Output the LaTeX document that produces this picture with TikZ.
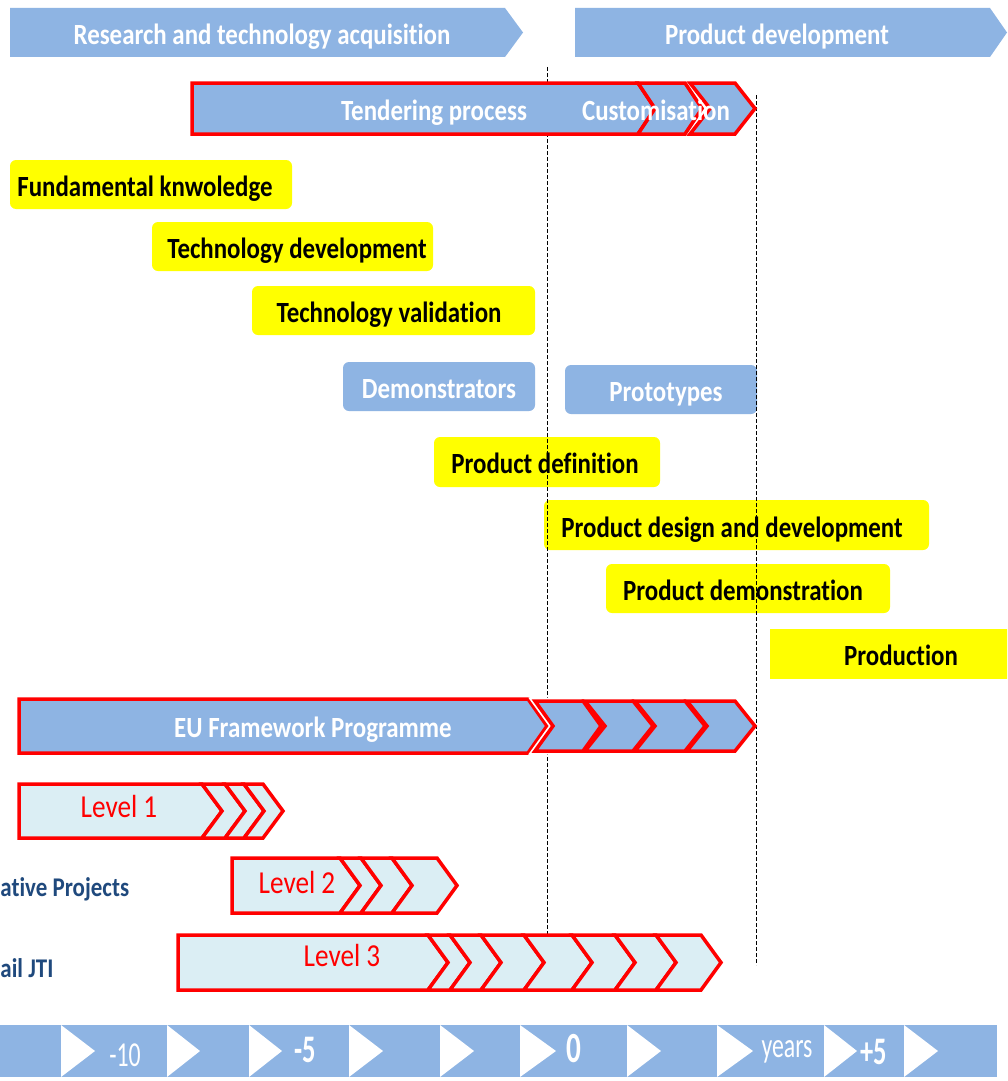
\documentclass[tikz,border=0pt]{standalone}
\usepackage{fontspec}
\setmainfont{Carlito}[FakeStretch=0.85, Ligatures=NoCommon]
\newfontfamily\narrowfont{Carlito}[FakeStretch=0.68]
\definecolor{pblue}{RGB}{142,180,227}
\definecolor{lblue}{RGB}{219,238,244}
\definecolor{dblue}{RGB}{31,73,125}
\definecolor{pyellow}{RGB}{255,255,0}

% chevron with a notch: style, x-left, x-right, depth, y-top, y-bottom
\newcommand\chevshape[6]{%
  \path[#1] (#2,#5) -- (#3,#5) -- ({#3+#4},{(#5+#6)/2}) -- (#3,#6)
    -- (#2,#6) -- ({#2+#4},{(#5+#6)/2}) -- cycle;}
% arrow bar with a flat left end
\newcommand\pentshape[6]{%
  \path[#1] (#2,#5) -- (#3,#5) -- ({#3+#4},{(#5+#6)/2}) -- (#3,#6)
    -- (#2,#6) -- cycle;}

\tikzset{
  hdr/.style={fill=pblue},
  ybox/.style={fill=pyellow, rounded corners=6pt},
  bbox/.style={fill=pblue, rounded corners=6pt},
  redbar/.style={draw=red, line width=3.5pt, fill=pblue, line join=miter},
  redhalo/.style={draw=white, line width=7pt, line join=miter},
  lvl/.style={draw=red, line width=3.5pt, fill=lblue, line join=miter},
  dashline/.style={draw=black, line width=1pt, dash pattern=on 4pt off 2pt},
  wtxt/.style={anchor=base, text=white, font=\bfseries\fontsize{29.3}{32}\selectfont},
  ktxt/.style={anchor=base, text=black, font=\bfseries\fontsize{29.3}{32}\selectfont},
  ltxt/.style={anchor=base, text=red, font=\fontsize{32}{36}\selectfont},
  stxt/.style={anchor=base west, text=dblue, font=\bfseries\fontsize{27}{30}\selectfont},
  atxt/.style={anchor=base, text=white},
  inner sep=0pt, outer sep=0pt
}

\begin{document}
\begin{tikzpicture}[x=1pt, y=-1pt]
\clip (0,0) rectangle (1007,1081);
\fill[white] (0,0) rectangle (1007,1081);

% phase headers
\pentshape{hdr}{10}{505}{18}{8}{57}
\pentshape{hdr}{575}{990}{17}{8}{57}
\node[wtxt] (hres) at (262,45) {Research and technology acquisition};
\node[wtxt] (hprod) at (777,45) {Product development};

% activity boxes
\path[ybox] (10,160) rectangle (292,209);
\path[ybox] (152,222) rectangle (433,271);
\path[ybox] (252,286) rectangle (535,335);
\path[bbox] (343,362) rectangle (535,411);
\path[bbox] (565,365) rectangle (757,414);
\path[ybox] (434,437) rectangle (660,487);
\path[ybox] (544,500) rectangle (929,550);
\path[ybox] (606,564) rectangle (890,613);
\fill[pyellow] (770,629) rectangle (1010,679);

\node[ktxt] (fund) at (145,196) {Fundamental knwoledge};
\node[ktxt] (tdev) at (297,258) {Technology development};
\node[ktxt] (tval) at (389,322) {Technology validation};
\node[wtxt] (demo) at (439,398) {Demonstrators};
\node[wtxt] (proto) at (666,401) {Prototypes};
\node[ktxt] (pdef) at (545,473) {Product definition};
\node[ktxt] (pdes) at (732,537) {Product design and development};
\node[ktxt] (pdem) at (743,600) {Product demonstration};
\node[ktxt] (prodn) at (901,665) {Production};

% time markers
\coordinate (za) at (547,67);
\coordinate (zb) at (547,935);
\coordinate (ya) at (756,95);
\coordinate (yb) at (756,965);
\draw[dashline] (za) -- (zb);
\draw[dashline] (ya) -- (yb);

% tendering bar
\pentshape{redbar}{192}{638}{17}{83}{134}
\chevshape{redbar}{638}{685}{17}{83}{134}
\chevshape{redbar}{690}{735}{20}{83}{134}
\node[wtxt] (tend) at (434,120) {Tendering process};
\node[wtxt] (cust) at (656,120) {Customisation};

% EU framework programme bar
\pentshape{redbar}{19}{528}{19}{699}{753}
\chevshape{redhalo}{535}{583}{18}{701}{751}
\chevshape{redbar}{535}{583}{18}{701}{751}
\chevshape{redbar}{585}{633}{20}{701}{751}
\chevshape{redbar}{635}{685}{20}{701}{751}
\chevshape{redbar}{687}{735}{20}{701}{751}
\node[wtxt] (eufp) at (313,737) {EU Framework Programme};

% level 1
\pentshape{lvl}{19}{202}{20}{784}{838}
\chevshape{lvl}{202}{225}{20}{784}{838}
\chevshape{lvl}{225}{244}{20}{784}{838}
\chevshape{lvl}{244}{263}{20}{784}{838}
\node[ltxt] (lv1) at (119,817) {Level 1};

% level 2
\pentshape{lvl}{232}{340}{20}{858}{913}
\chevshape{lvl}{340}{361}{20}{858}{913}
\chevshape{lvl}{361}{392}{20}{858}{913}
\chevshape{lvl}{392}{437}{20}{858}{913}
\node[ltxt] (lv2) at (297,893) {Level 2};

% level 3
\pentshape{lvl}{178}{428}{20}{935}{990}
\chevshape{lvl}{428}{450}{20}{935}{990}
\chevshape{lvl}{450}{481}{20}{935}{990}
\chevshape{lvl}{481}{524}{20}{935}{990}
\chevshape{lvl}{524}{572}{20}{935}{990}
\chevshape{lvl}{572}{615}{20}{935}{990}
\chevshape{lvl}{615}{656}{20}{935}{990}
\chevshape{lvl}{656}{701}{20}{935}{990}
\node[ltxt] (lv3) at (342,966) {Level 3};

% programme labels
\node[stxt] (cproj) at (0.5,896) {ative Projects};
\node[stxt] (jti) at (0.5,977) {ail JTI};

% time axis
\fill[pblue] (0,1025) rectangle (997,1077);
\foreach \xb/\xt in {61/95,167/200,249/282,349/383,440/474,520/556,627/661,717/753,824/857,904/938}
  \fill[white] (\xb,1025) -- (\xt,1051) -- (\xb,1077) -- cycle;
\node[atxt, font=\narrowfont\fontsize{35}{38}\selectfont] (tm10) at (125,1066) {-10};
\node[atxt, font=\narrowfont\bfseries\fontsize{39}{42}\selectfont] (tm5) at (305,1062) {-5};
\node[atxt, font=\narrowfont\bfseries\fontsize{43}{46}\selectfont] (t0) at (574,1062) {0};
\node[atxt, font=\narrowfont\fontsize{35}{38}\selectfont] (tyr) at (787,1057) {years};
\node[atxt, font=\narrowfont\bfseries\fontsize{39}{42}\selectfont] (tp5) at (874,1064) {+5};
\end{tikzpicture}
\end{document}
